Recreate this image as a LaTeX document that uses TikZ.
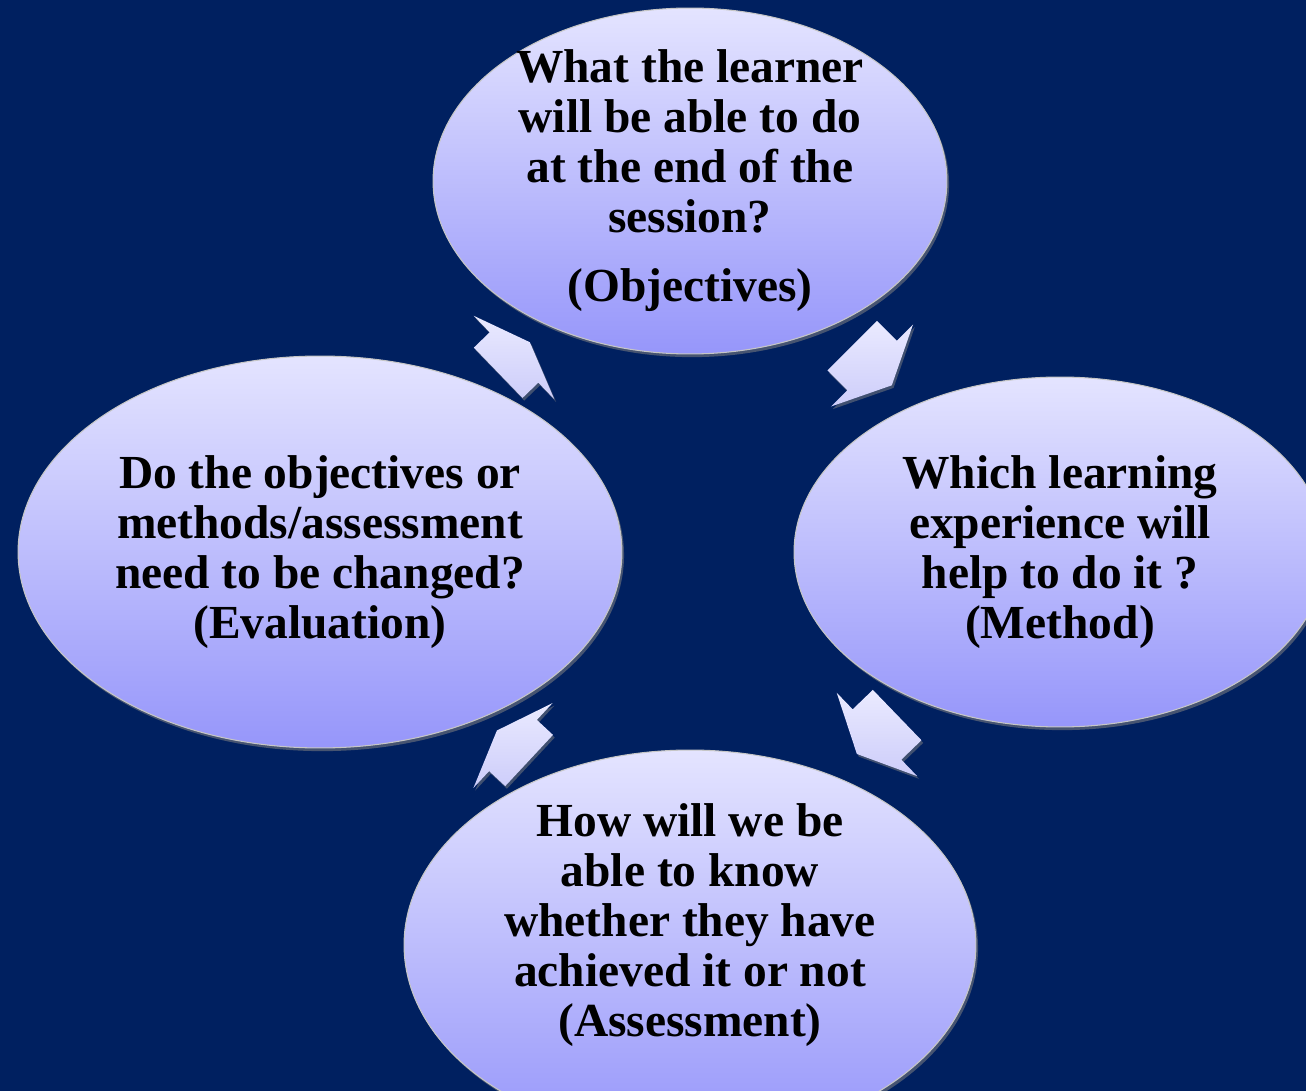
\documentclass[tikz,border=0pt]{standalone}
\usepackage{fontspec}
\setmainfont{Liberation Serif}
\usetikzlibrary{shapes.geometric,shadows,calc}

\definecolor{navy}{RGB}{0,32,96}
\definecolor{bubbletop}{RGB}{228,228,255}
\definecolor{bubblebot}{RGB}{150,150,250}
\definecolor{arrowtop}{RGB}{234,234,255}
\definecolor{arrowbot}{RGB}{205,205,250}

\tikzset{
  bubble/.style={ellipse, draw=gray!45, line width=0.6pt,
    top color=bubbletop, bottom color=bubblebot, inner sep=-30pt,
    align=center, font=\bfseries\fontsize{27}{28.45}\selectfont,
    drop shadow={shadow xshift=1.2pt, shadow yshift=-1.8pt, opacity=0.55}},
  blockarrow/.style={top color=arrowtop, bottom color=arrowbot,
    drop shadow={shadow xshift=1pt, shadow yshift=-1.5pt, opacity=0.5}}
}

% #1 position, #2 direction, #3 half length
\newcommand{\cyclearrow}[3]{%
  \path[blockarrow, shift={#1}, rotate=#2]
    (-#3,-35) -- (0,-35) -- (0,-58) -- (#3,0) -- (0,58) -- (0,35) -- (-#3,35) -- cycle;}

\begin{document}
\begin{tikzpicture}[x=0.02cm, y=-0.02cm]
  \useasboundingbox (0,0) rectangle (1306,1091);
  \clip (0,0) rectangle (1306,1091);
  \fill[navy] (0,0) rectangle (1306,1091);

  \node[bubble, minimum width=10.28cm, minimum height=6.92cm] (obj) at (690,181)
    {What the learner\\ will be able to do\\ at the end of the\\ session?\\[0.4em] (Objectives)};
  \node[bubble, minimum width=10.64cm, minimum height=7cm] (meth) at (1060,552)
    {Which learning\\ experience will\\ help to do it ?\\ (Method)};
  \node[bubble, minimum width=11.44cm, minimum height=7.8cm] (assess) at (690,945)
    {How will we be\\ able to know\\ whether they have\\ achieved it or not\\ (Assessment)\\ \mbox{}};
  \node[bubble, minimum width=12.08cm, minimum height=7.84cm] (eval) at (320,552)
    {Do the objectives or\\ methods/assessment\\ need to be changed?\\ (Evaluation)};

  \cyclearrow{($(eval)!0.5!(obj)+(9,-9)$)}{44}{22}
  \cyclearrow{($(obj)!0.5!(meth)+(-3,-1)$)}{-45}{28}
  \cyclearrow{($(meth)!0.5!(assess)+(2,-14)$)}{-136}{28}
  \cyclearrow{($(assess)!0.5!(eval)+(8,-3)$)}{137}{22}
\end{tikzpicture}
\end{document}
